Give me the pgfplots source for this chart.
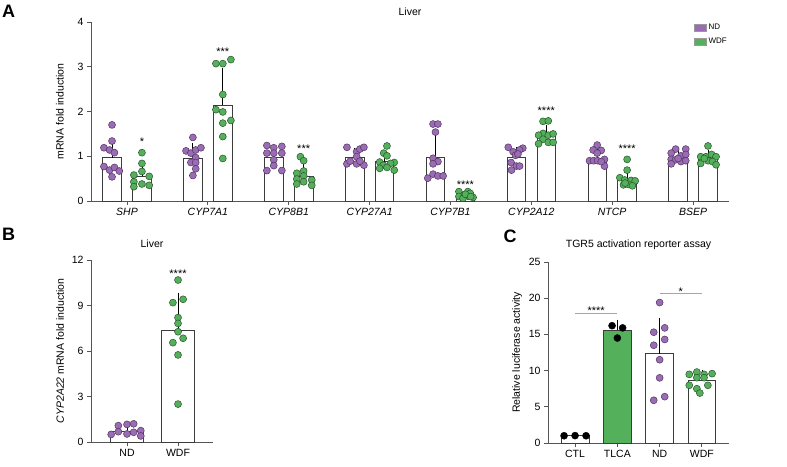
\documentclass[border=0pt]{standalone}
\usepackage{fontspec}
\setmainfont{Liberation Sans}
\usepackage{pgfplots}
\pgfplotsset{compat=1.18}

\definecolor{nd}{RGB}{155,107,181}
\definecolor{ndd}{RGB}{80,55,95}
\definecolor{wdf}{RGB}{85,176,92}
\definecolor{wdfd}{RGB}{40,85,45}
\definecolor{axc}{RGB}{85,85,85}
\definecolor{barc}{RGB}{60,60,60}

\newcommand{\lbl}{\fontsize{10.5}{12}\selectfont}

\pgfplotsset{
  gp/.style={
    scale only axis, clip=false,
    axis x line*=bottom, axis y line*=left,
    axis line style={axc, line width=0.9pt, -},
    tick style={axc, line width=0.9pt},
    tick align=outside, major tick length=4pt,
    /pgf/number format/assume math mode=true,
    tick label style={font=\lbl},
    label style={font=\lbl},
    title style={font=\lbl},
  },
  bars/.style={ybar, bar shift=0pt, fill=white, draw=barc, line width=0.8pt, forget plot},
  ndpts/.style={only marks, mark=*, mark size=3.5pt, mark options={fill=nd, draw=ndd, line width=0.5pt}, forget plot},
  wdfpts/.style={only marks, mark=*, mark size=3.5pt, mark options={fill=wdf, draw=wdfd, line width=0.5pt}, forget plot},
  blkpts/.style={only marks, mark=*, mark size=3.5pt, mark options={fill=black, draw=black, line width=0.5pt}, forget plot},
  errs/.style={draw=none, mark=none, forget plot,
    error bars/.cd, y dir=plus, y explicit,
    error bar style={draw=black, line width=0.8pt},
    error mark=-,
    error mark options={draw=black, line width=0.8pt, mark size=3pt}},
}
\tikzset{stars/.style={font=\fontsize{11}{11}\selectfont, inner sep=0pt, yshift=-2.3pt}}

\begin{document}
\begin{tikzpicture}[x=1pt, y=1pt]

% ---------------- A ----------------
\begin{axis}[gp,
  at={(91pt,265pt)}, anchor=south west,
  width=638pt, height=179pt,
  xmin=-0.445, xmax=7.445, ymin=0, ymax=4,
  ytick={0,1,2,3,4},
  xtick={0,...,7},
  xticklabels={\textit{SHP},\textit{CYP7A1},\textit{CYP8B1},\textit{CYP27A1},\textit{CYP7B1},\textit{CYP2A12},\textit{NTCP},\textit{BSEP}},
  ylabel={mRNA fold induction},
  ylabel style={at={(axis description cs:-0.0486,0.5)}, anchor=center},
  title={Liver},
  title style={at={(axis description cs:0.5,1)}, anchor=base, yshift=0pt},
  legend style={at={(axis description cs:0.945,1.0)}, anchor=north west, draw=none, fill=none,
    font=\fontsize{8}{9}\selectfont, inner sep=0pt, row sep=3pt},
  legend cell align=left,
]
\addlegendimage{legend image code/.code={\draw[fill=nd, draw=gray!80] (0pt,-3.5pt) rectangle (12pt,3.5pt);}}
\addlegendentry{ND}
\addlegendimage{legend image code/.code={\draw[fill=wdf, draw=gray!80] (0pt,-3.5pt) rectangle (12pt,3.5pt);}}
\addlegendentry{WDF}

\addplot[bars, bar width=0.23] coordinates {
  (-0.185,0.97) (0.815,0.96) (1.815,0.97) (2.815,0.97) (3.815,0.97) (4.815,0.97) (5.815,0.96) (6.815,0.98)};
\addplot[bars, bar width=0.23] coordinates {
  (0.185,0.56) (1.185,2.14) (2.185,0.56) (3.185,0.88) (4.185,0.13) (5.185,1.46) (6.185,0.47) (7.185,0.97)};

% ND points
\addplot[ndpts] coordinates {
  (-0.185,1.70) (-0.185,1.34) (-0.285,1.19) (-0.215,1.14) (-0.155,1.08)
  (-0.285,0.77) (-0.215,0.69) (-0.155,0.75) (-0.095,0.67) (-0.185,0.54)
  (0.815,1.42) (0.73,1.12) (0.79,1.07) (0.85,1.14) (0.915,1.19)
  (0.85,0.97) (0.79,0.86) (0.85,0.86) (0.85,0.72) (0.815,0.57)
  (1.73,1.24) (1.815,1.19) (1.915,1.22) (1.73,1.07) (1.815,1.07)
  (1.915,1.07) (1.815,0.92) (1.815,0.79) (1.73,0.68) (1.915,0.68)
  (2.72,1.20) (2.84,1.10) (2.88,1.16) (2.93,1.20) (2.84,0.99)
  (2.72,0.83) (2.84,0.83) (2.93,0.80) (2.88,0.89) (2.76,0.89)
  (3.785,1.72) (3.845,1.72) (3.815,1.54) (3.785,0.955) (3.845,0.88)
  (3.785,0.83) (3.72,0.51) (3.785,0.60) (3.845,0.56) (3.91,0.56)
  (4.715,1.20) (4.895,1.18) (4.775,1.10) (4.855,1.14) (4.805,1.02)
  (4.75,0.86) (4.815,0.78) (4.855,0.78) (4.755,0.69) (4.835,1.05)
  (5.815,1.25) (5.765,1.14) (5.865,1.13) (5.815,1.07) (5.72,0.90)
  (5.77,0.90) (5.82,0.90) (5.905,0.93) (5.905,0.78) (5.865,0.88)
  (6.785,1.16) (6.91,1.16) (6.73,1.07) (6.85,1.01) (6.91,1.04)
  (6.73,0.93) (6.785,0.92) (6.85,0.88) (6.91,0.90) (6.73,0.83) (6.815,0.95)};
% WDF points
\addplot[wdfpts] coordinates {
  (0.185,1.08) (0.185,0.84) (0.185,0.66) (0.085,0.58) (0.275,0.55)
  (0.085,0.43) (0.185,0.38) (0.085,0.32) (0.275,0.35)
  (1.10,3.07) (1.185,3.07) (1.285,3.16) (1.185,2.38) (1.10,2.04)
  (1.185,1.99) (1.285,1.80) (1.185,1.74) (1.185,1.44) (1.185,0.95)
  (2.145,0.99) (2.185,0.90) (2.185,0.67) (2.10,0.62) (2.185,0.56)
  (2.10,0.49) (2.285,0.47) (2.185,0.43) (2.10,0.38) (2.285,0.35)
  (3.215,1.23) (3.175,1.07) (3.215,1.01) (3.125,0.87) (3.305,0.86)
  (3.26,0.84) (3.17,0.80) (3.215,0.75) (3.125,0.73) (3.305,0.69)
  (4.105,0.21) (4.215,0.21) (4.165,0.13) (4.105,0.10) (4.28,0.08)
  (4.215,0.11) (4.155,0.06) (4.245,0.17) (4.185,0.15) (4.25,0.10)
  (5.145,1.78) (5.21,1.79) (5.145,1.51) (5.09,1.47) (5.21,1.47)
  (5.27,1.50) (5.145,1.38) (5.09,1.28) (5.21,1.31) (5.27,1.31)
  (6.185,0.93) (6.185,0.69) (6.095,0.52) (6.155,0.47) (6.235,0.46)
  (6.285,0.45) (6.14,0.36) (6.2,0.37) (6.25,0.34) (6.16,0.40)
  (7.185,1.23) (7.095,0.99) (7.16,0.99) (7.23,1.04) (7.285,0.99)
  (7.185,0.90) (7.24,0.88) (7.095,0.84) (7.285,0.81) (7.14,0.95)};

\addplot[errs] coordinates {
  (-0.185,0.97) +- (0,0.37) (0.815,0.96) +- (0,0.26) (1.815,0.97) +- (0,0.16)
  (2.815,0.97) +- (0,0.15) (3.815,0.97) +- (0,0.53) (4.815,0.97) +- (0,0.16)
  (5.815,0.96) +- (0,0.14) (6.815,0.98) +- (0,0.12)};
\addplot[errs] coordinates {
  (0.185,0.56) +- (0,0.26) (1.185,2.14) +- (0,0.76) (2.185,0.56) +- (0,0.19)
  (3.185,0.88) +- (0,0.14) (4.185,0.13) +- (0,0.05) (5.185,1.46) +- (0,0.18)
  (6.185,0.47) +- (0,0.17) (7.185,0.97) +- (0,0.11)};

\node[stars] at (axis cs:0.185,1.37) {*};
\node[stars] at (axis cs:1.185,3.38) {***};
\node[stars] at (axis cs:2.185,1.22) {***};
\node[stars] at (axis cs:4.185,0.41) {****};
\node[stars] at (axis cs:5.185,2.06) {****};
\node[stars] at (axis cs:6.185,1.23) {****};
\end{axis}

% ---------------- B ----------------
\begin{axis}[gp,
  at={(91pt,24pt)}, anchor=south west,
  width=122pt, height=182pt,
  xmin=-0.706, xmax=1.686, ymin=0, ymax=12,
  ytick={0,3,6,9,12},
  xtick={0,1}, xticklabels={ND,WDF},
  ylabel={\textit{CYP2A22} mRNA fold induction},
  ylabel style={at={(axis description cs:-0.254,0.5)}, anchor=center},
  title={Liver},
  title style={at={(axis description cs:0.5,1)}, anchor=base, yshift=6pt},
]
\addplot[bars, bar width=0.65] coordinates {(0,0.72) (1,7.34)};
\addplot[ndpts] coordinates {
  (-0.31,0.50) (-0.17,1.08) (0,1.16) (0.13,1.20) (0.27,0.75)
  (-0.17,0.68) (0,0.53) (0.13,0.64) (0.27,0.40)};
\addplot[wdfpts] coordinates {
  (1,10.68) (0.9,9.19) (1.1,9.41) (1,8.20) (1,7.82)
  (1,7.27) (1.1,6.84) (0.9,6.55) (1,5.74) (1,2.50)};
\addplot[errs] coordinates {(0,0.72) +- (0,0.30) (1,7.34) +- (0,2.29)};
\node[stars] at (axis cs:1,11.23) {****};
\end{axis}

% ---------------- C ----------------
\begin{axis}[gp,
  at={(548pt,23pt)}, anchor=south west,
  width=181pt, height=181pt,
  xmin=-0.64, xmax=3.64, ymin=0, ymax=25,
  ytick={0,5,...,25},
  xtick={0,...,3}, xticklabels={CTL,TLCA,ND,WDF},
  ylabel={Relative luciferase activity},
  ylabel style={at={(axis description cs:-0.171,0.5)}, anchor=center},
  title={TGR5 activation reporter assay},
  title style={at={(axis description cs:0.5,1)}, anchor=base, yshift=8.5pt},
]
\addplot[bars, bar width=0.66] coordinates {(0,1.0) (2,12.34) (3,8.60)};
\addplot[bars, bar width=0.66, fill=wdf] coordinates {(1,15.56)};
\addplot[blkpts] coordinates {(-0.26,1.0) (0,1.02) (0.26,1.0)
  (0.875,16.2) (1.125,15.9) (1,14.5)};
\addplot[ndpts] coordinates {
  (2,19.4) (1.86,15.3) (2.12,15.9) (2.12,14.3) (1.86,13.5)
  (2,11.5) (2,9.0) (2.12,6.4) (1.86,5.9)};
\addplot[wdfpts] coordinates {
  (2.7,9.48) (2.88,9.8) (3.05,9.48) (3.24,9.58) (2.88,9.02)
  (3.05,9.02) (2.7,7.97) (2.88,7.5) (3.14,7.97) (2.95,6.9)};
\addplot[errs] coordinates {(1,15.56) +- (0,0.95) (2,12.34) +- (0,4.56) (3,8.60) +- (0,1.07)};
\draw[gray!70, line width=0.8pt] (axis cs:0,17.86) -- (axis cs:1,17.86);
\draw[gray!70, line width=0.8pt] (axis cs:2,20.6) -- (axis cs:3,20.6);
\node[stars] at (axis cs:0.5,18.55) {****};
\node[stars] at (axis cs:2.5,21.18) {*};
\end{axis}

\node[font=\fontsize{18}{18}\selectfont\bfseries] at (8.5,454.5) {A};
\node[font=\fontsize{18}{18}\selectfont\bfseries] at (8.5,232) {B};
\node[font=\fontsize{18}{18}\selectfont\bfseries] at (510,230) {C};

\pgfresetboundingbox
\useasboundingbox (0,0) rectangle (787,466);
\end{tikzpicture}
\end{document}
